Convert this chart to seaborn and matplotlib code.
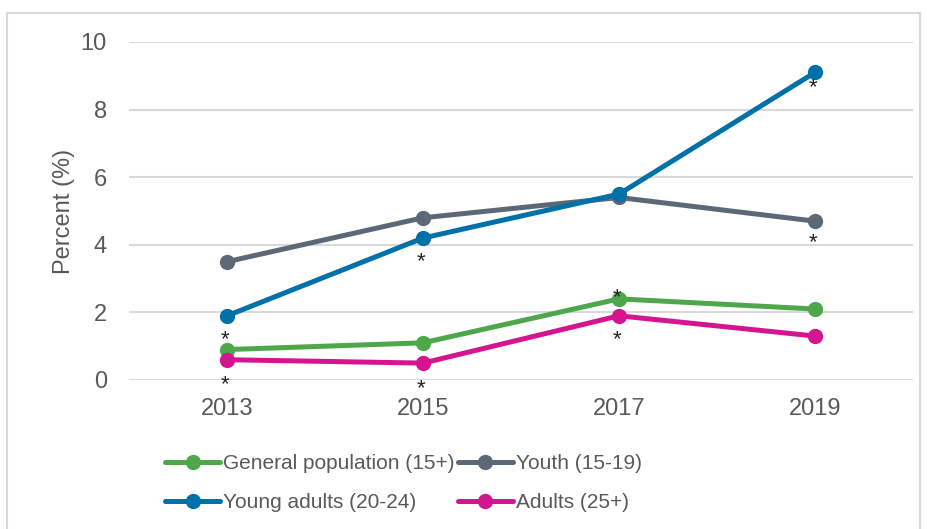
import matplotlib
matplotlib.use("Agg")
import matplotlib.pyplot as plt
from matplotlib.patches import Rectangle
import seaborn as sns
import pandas as pd

years = ["2013", "2015", "2017", "2019"]
general = [0.9, 1.1, 2.4, 2.1]
youth = [3.5, 4.8, 5.4, 4.7]
young_adults = [1.9, 4.2, 5.5, 9.1]
adults = [0.6, 0.5, 1.9, 1.3]
series_names = ["General population (15+)", "Youth (15-19)",
                "Young adults (20-24)", "Adults (25+)"]
colors = ["#4EA84B", "#5D6877", "#0070A8", "#D4158F"]

# significance markers (year index, value)
ast_x = [0, 0, 1, 1, 2, 2, 3, 3]
ast_y = [1.18, -0.15, 3.5, -0.27, 2.45, 1.18, 8.65, 4.05]

rows = []
for name, vals in zip(series_names, [general, youth, young_adults, adults]):
    for yr, v in zip(years, vals):
        rows.append({"Year": yr, "Percent": v, "Group": name})
df = pd.DataFrame(rows)

sns.set_theme(style="white")
plt.rcParams["font.family"] = ["Liberation Sans", "DejaVu Sans"]

fig = plt.figure(figsize=(9.27, 5.29), dpi=100)
fig.patches.append(Rectangle((7 / 927, -0.01), 913 / 927, 1 - 13 / 529 + 0.01,
                             transform=fig.transFigure, fill=False,
                             edgecolor="#D9D9D9", linewidth=1.5))
ax = fig.add_axes([129 / 927, 1 - 380 / 529, 784 / 927, 338 / 529])

sns.lineplot(data=df, x="Year", y="Percent", hue="Group",
             hue_order=series_names, palette=colors, marker="o",
             markersize=11, markeredgewidth=0, linewidth=3.6, ax=ax,
             legend=True, zorder=3)

for xv, yv in zip(ast_x, ast_y):
    ax.text(xv - 0.01, yv, "*", ha="center", va="center", fontsize=16,
            color="#222222", clip_on=False, zorder=5)

ax.set_xlim(-0.5, 3.5)
ax.set_ylim(0, 10)
ax.set_yticks([0, 2, 4, 6, 8, 10])
ax.grid(axis="y", color="#D9D9D9", linewidth=1.5)
ax.set_axisbelow(True)
for s in ax.spines.values():
    s.set_visible(False)
ax.tick_params(axis="both", length=0, labelsize=17, labelcolor="#595959")
ax.tick_params(axis="y", pad=16)
ax.tick_params(axis="x", pad=13)
ax.set_xlabel("")
ax.set_ylabel("Percent (%)", fontsize=17, color="#595959", labelpad=4)

handles, labels = ax.get_legend_handles_labels()
ax.get_legend().remove()
hmap = dict(zip(labels, handles))
order = [series_names[0], series_names[2], series_names[1], series_names[3]]
leg = fig.legend([hmap[k] for k in order], order, ncol=2, frameon=False,
                 loc="upper left", bbox_to_anchor=(155 / 927, 1 - 444 / 529),
                 fontsize=15, handlelength=2.6, handletextpad=0.15,
                 columnspacing=0.2, labelspacing=0.95, borderpad=0)
for t in leg.get_texts():
    t.set_color("#595959")

fig.savefig("out.png", dpi=100)
